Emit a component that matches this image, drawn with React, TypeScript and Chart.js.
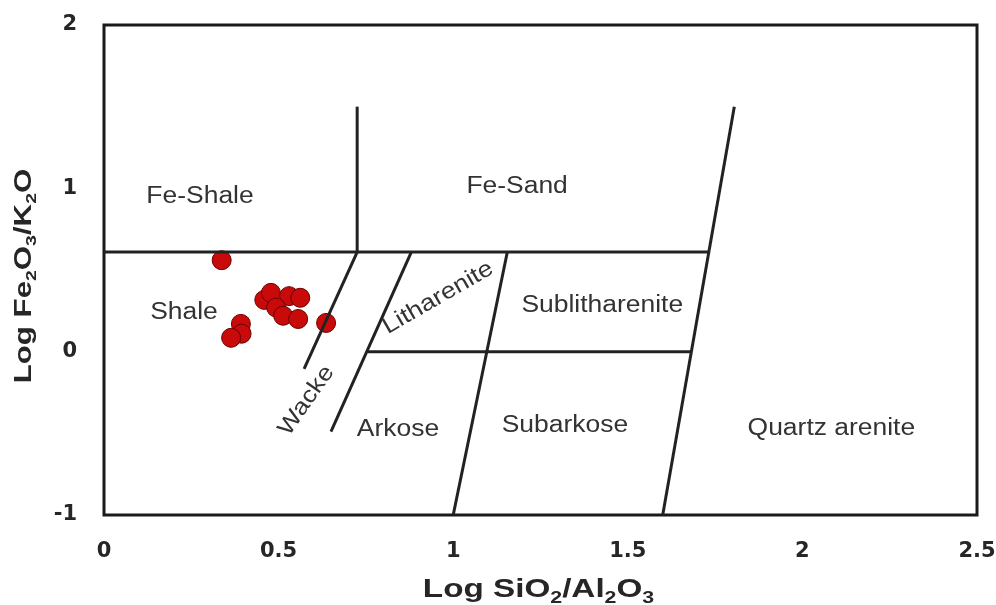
import React, { useEffect, useRef } from "react";
import { Chart, registerables } from "chart.js";

Chart.register(...registerables);

// Sample points (Log SiO2/Al2O3, Log Fe2O3/K2O)
const sampleX = [0.337, 0.459, 0.478, 0.53, 0.562, 0.493, 0.513, 0.556, 0.636, 0.392, 0.394, 0.364];
const sampleY = [0.56, 0.317, 0.36, 0.34, 0.33, 0.27, 0.22, 0.2, 0.176, 0.17, 0.11, 0.085];

// Axis ticks
const xTicks = [0, 0.5, 1, 1.5, 2, 2.5];
const yTicks = [-1, 0, 1, 2];

// Classification boundary segments [x, y]
const feBoundary = [[0, 0.61], [1.732, 0.61]];
const feDivide = [[0.725, 0.61], [0.725, 1.5]];
const quartzBoundary = [[1.6, -1], [1.805, 1.5]];
const wackeLine = [[0.725, 0.61], [0.573, -0.106]];
const arkoseLeft = [[0.88, 0.61], [0.65, -0.49]];
const subarkoseLeft = [[1.155, 0.61], [1.0, -1]];
const lithicDivide = [[0.756, 0], [1.683, 0]];
const boundaries = [feBoundary, feDivide, quartzBoundary, wackeLine, arkoseLeft, subarkoseLeft, lithicDivide];

// Field labels
const fieldNames = ["Fe-Shale", "Fe-Sand", "Shale", "Sublitharenite", "Arkose", "Subarkose", "Quartz arenite", "Litharenite", "Wacke"];
const fieldX = [0.275, 1.183, 0.229, 1.427, 0.842, 1.32, 2.083, 0.957, 0.58];
const fieldY = [0.95, 1.01, 0.24, 0.28, -0.48, -0.455, -0.47, 0.33, -0.3];
const fieldAngle = [0, 0, 0, 0, 0, 0, 0, -30, -55];

const FONT = '"Liberation Sans", Arial, Helvetica, sans-serif';

type Part = { t: string; sub?: boolean };

function drawParts(ctx: CanvasRenderingContext2D, parts: Part[], size: number, weight: string, sx: number) {
  const main = `${weight} ${size}px ${FONT}`;
  const sub = `${weight} ${Math.round(size * 0.62)}px ${FONT}`;
  const widths = parts.map((p) => {
    ctx.font = p.sub ? sub : main;
    return ctx.measureText(p.t).width;
  });
  const total = widths.reduce((a, b) => a + b, 0);
  ctx.save();
  ctx.scale(sx, 1);
  ctx.textAlign = "left";
  ctx.textBaseline = "alphabetic";
  let x = -total / 2;
  parts.forEach((p, i) => {
    ctx.font = p.sub ? sub : main;
    ctx.fillText(p.t, x, p.sub ? size * 0.22 : 0);
    x += widths[i];
  });
  ctx.restore();
}

const xTitle: Part[] = [{ t: "Log SiO" }, { t: "2", sub: true }, { t: "/Al" }, { t: "2", sub: true }, { t: "O" }, { t: "3", sub: true }];
const yTitle: Part[] = [{ t: "Log Fe" }, { t: "2", sub: true }, { t: "O" }, { t: "3", sub: true }, { t: "/K" }, { t: "2", sub: true }, { t: "O" }];

const decorPlugin = {
  id: "decor",
  beforeDatasetsDraw(chart: any) {
    const { ctx, chartArea } = chart;
    ctx.save();
    ctx.strokeStyle = "#1a1a1a";
    ctx.lineWidth = 3;
    ctx.strokeRect(chartArea.left, chartArea.top, chartArea.right - chartArea.left, chartArea.bottom - chartArea.top);
    ctx.restore();
  },
  afterDraw(chart: any) {
    const { ctx, chartArea, scales } = chart;
    const xs = scales.x;
    const ys = scales.y;
    ctx.save();
    ctx.fillStyle = "#333333";
    fieldNames.forEach((name, i) => {
      const px = xs.getPixelForValue(fieldX[i]);
      const py = ys.getPixelForValue(fieldY[i]);
      ctx.save();
      ctx.translate(px, py);
      ctx.rotate((fieldAngle[i] * Math.PI) / 180);
      ctx.scale(1.15, 1);
      ctx.font = `23px ${FONT}`;
      ctx.textAlign = "center";
      ctx.textBaseline = "middle";
      ctx.fillText(name, 0, 0);
      ctx.restore();
    });

    // Axis titles
    ctx.fillStyle = "#262626";
    const cx = (chartArea.left + chartArea.right) / 2 - 2;
    ctx.save();
    ctx.translate(cx, 597);
    drawParts(ctx, xTitle, 25, "bold", 1.33);
    ctx.restore();

    const cy = (chartArea.top + chartArea.bottom) / 2 + 6;
    ctx.save();
    ctx.translate(31, cy);
    ctx.rotate(-Math.PI / 2);
    drawParts(ctx, yTitle, 24, "bold", 1.3);
    ctx.restore();
    ctx.restore();
  },
};

function zeroPad(s: any) {
  s.paddingLeft = 0;
  s.paddingRight = 0;
  s.paddingTop = 0;
  s.paddingBottom = 0;
}

export default function App() {
  const ref = useRef<HTMLCanvasElement | null>(null);

  useEffect(() => {
    document.body.style.margin = "0";
    const canvas = ref.current;
    if (!canvas) return;

    const lineSets = boundaries.map((seg) => ({
      type: "scatter" as const,
      data: seg.map(([x, y]) => ({ x, y })),
      showLine: true,
      borderColor: "#222222",
      borderWidth: 3,
      borderCapStyle: "butt" as const,
      pointRadius: 0,
      pointHoverRadius: 0,
      fill: false,
    }));

    const pointSet = {
      type: "scatter" as const,
      data: sampleX.map((x, i) => ({ x, y: sampleY[i] })),
      pointRadius: 9.5,
      pointHoverRadius: 9.5,
      backgroundColor: "#c80a0a",
      borderColor: "#6a0000",
      borderWidth: 1,
      showLine: false,
    };

    const chart = new Chart(canvas, {
      type: "scatter",
      data: { datasets: [...lineSets, pointSet] as any },
      options: {
        responsive: false,
        animation: false,
        devicePixelRatio: 1,
        layout: { padding: { top: 25, right: 19, left: 0, bottom: 0 } },
        plugins: { legend: { display: false }, tooltip: { enabled: false } },
        scales: {
          x: {
            type: "linear",
            min: 0,
            max: 2.5,
            grid: { display: false, drawTicks: false },
            border: { display: false },
            afterBuildTicks: (s: any) => {
              s.ticks = xTicks.map((v) => ({ value: v }));
            },
            afterFit: (s: any) => {
              s.height = 90;
              zeroPad(s);
            },
            ticks: {
              padding: 24,
              color: "#262626",
              font: { family: '"DejaVu Sans", sans-serif', size: 21, weight: "bold" },
              callback: (v: any) => String(v),
              maxRotation: 0,
            },
          },
          y: {
            type: "linear",
            min: -1,
            max: 2,
            grid: { display: false, drawTicks: false },
            border: { display: false },
            afterBuildTicks: (s: any) => {
              s.ticks = yTicks.map((v) => ({ value: v }));
            },
            afterFit: (s: any) => {
              s.width = 104;
              zeroPad(s);
            },
            ticks: {
              padding: 27,
              color: "#262626",
              font: { family: '"DejaVu Sans", sans-serif', size: 21, weight: "bold" },
              callback: (v: any) => String(v),
            },
          },
        },
      },
      plugins: [decorPlugin],
    });

    return () => chart.destroy();
  }, []);

  return (
    <div style={{ width: 996, height: 605 }}>
      <canvas ref={ref} width={996} height={605} style={{ display: "block" }} />
    </div>
  );
}
